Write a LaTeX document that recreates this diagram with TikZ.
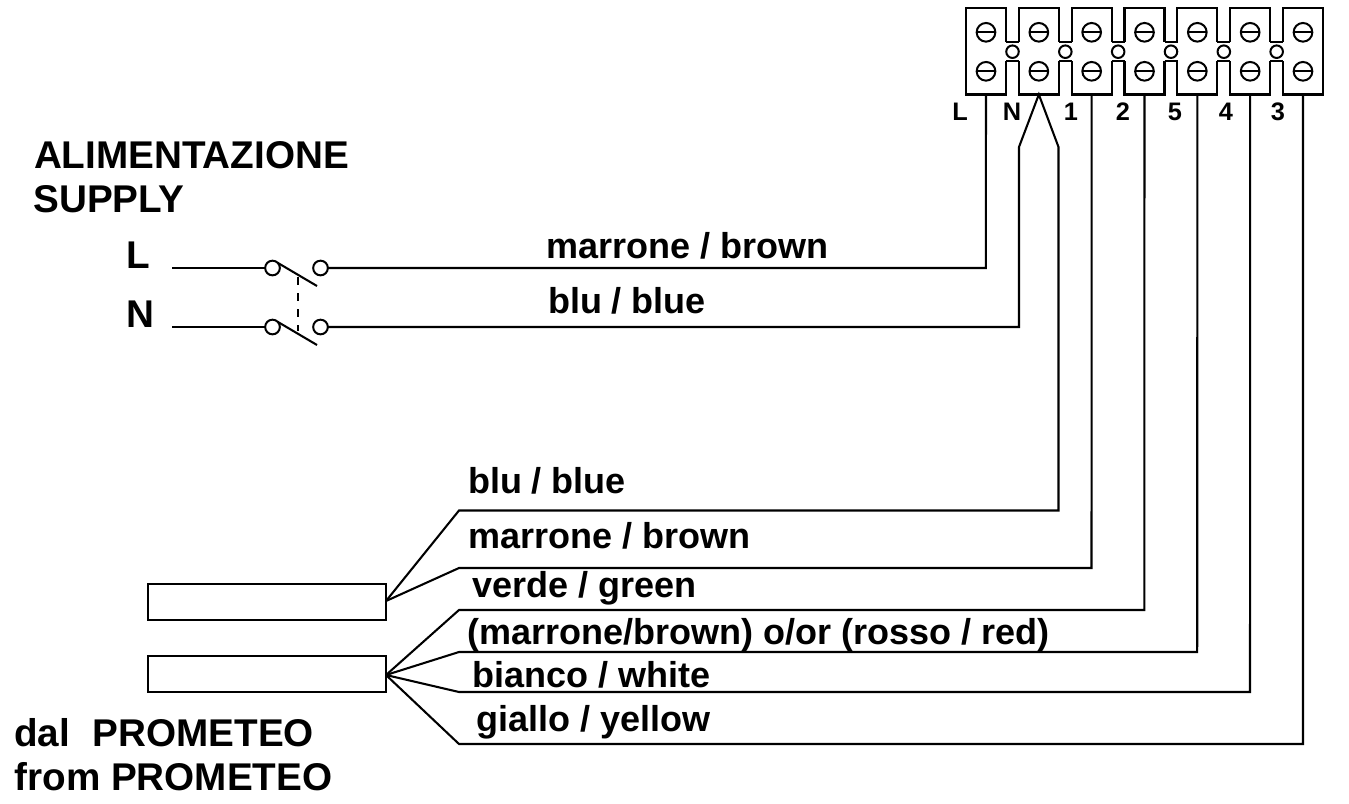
\documentclass[tikz,border=0pt]{standalone}
\usepackage{fontspec}
\setmainfont{Liberation Sans}
\tikzset{
  wire/.style={draw=black,line width=1.55pt,line join=miter},
  blockline/.style={draw=black,line width=1.6pt,line join=miter},
  screw/.style={circle,draw=black,line width=1.5pt,minimum size=14pt,inner sep=0pt,outer sep=0pt},
  pin/.style={circle,draw=black,line width=1.5pt,minimum size=9.4pt,inner sep=0pt,outer sep=0pt},
  contact/.style={circle,draw=black,line width=1.5pt,minimum size=11pt,inner sep=0pt,outer sep=0pt},
  box/.style={draw=black,line width=1.5pt,inner sep=0pt,outer sep=0pt,minimum width=178.5pt,minimum height=27pt},
  big/.style={anchor=base west,inner sep=0pt,outer sep=0pt,font=\fontsize{29pt}{32pt}\bfseries\selectfont},
  lbl/.style={anchor=base west,inner sep=0pt,outer sep=0pt,font=\fontsize{27pt}{30pt}\bfseries\selectfont},
  termlbl/.style={anchor=base,inner sep=0pt,outer sep=0pt,font=\fontsize{19pt}{21pt}\bfseries\selectfont}
}
\begin{document}
\begin{tikzpicture}[x=0.75pt,y=-0.75pt]
\useasboundingbox (0,0) rectangle (1349,803);
% terminal block
\foreach \i in {0,...,6}{
  \pgfmathsetmacro{\xa}{966+52.83*\i}
  \pgfmathsetmacro{\xb}{\xa+40}
  \pgfmathsetmacro{\xc}{\xa+20}
  \draw[blockline] (\xa,42) -- (\xa,8) -- (\xb,8) -- (\xb,42);
  \draw[blockline] (\xa,61) -- (\xa,94.5) -- (\xb,94.5) -- (\xb,61);
  \node[screw] (sa\i) at (\xc,32.3) {};
  \node[screw] (sb\i) at (\xc,71.3) {};
  \draw[line width=1.3pt] (sa\i.west) -- (sa\i.east);
  \draw[line width=1.3pt] (sb\i.west) -- (sb\i.east);
  \coordinate (t\i) at (\xc,94.5);
}
\draw[blockline] (966,42) -- (966,61);
\draw[blockline] (1323,42) -- (1323,61);
\foreach \i in {0,...,5}{
  \pgfmathsetmacro{\xb}{1006+52.83*\i}
  \pgfmathsetmacro{\xd}{\xb+13}
  \pgfmathsetmacro{\xp}{\xb+6.5}
  \draw[blockline] (\xb,42) -- (\xd,42);
  \draw[blockline] (\xb,61) -- (\xd,61);
  \node[pin,fill=white] (p\i) at (\xp,51.7) {};
}
\node[termlbl] (tl0) at (960,120) {L};
\node[termlbl] (tl1) at (1012,120) {N};
\node[termlbl] (tl2) at (1071,120) {1};
\node[termlbl] (tl3) at (1123,120) {2};
\node[termlbl] (tl4) at (1175,120) {5};
\node[termlbl] (tl5) at (1226,120) {4};
\node[termlbl] (tl6) at (1278,120) {3};
% supply labels
\node[big] (ali) at (34,168) {ALIMENTAZIONE};
\node[big] (sup) at (33.5,212.7) {SUPPLY};
\node[big] (lL) at (126.5,268) {L};
\node[big] (lN) at (126.5,327) {N};
% switch
\coordinate (inL) at (172,268);
\coordinate (inN) at (172,327);
\node[contact] (c1) at (272.5,268) {};
\node[contact] (c2) at (320.5,268) {};
\node[contact] (c3) at (272.5,327) {};
\node[contact] (c4) at (320.5,327) {};
\coordinate (bladeL) at (317,286);
\coordinate (bladeN) at (317,345);
\coordinate (linkT) at (298,277);
\coordinate (linkB) at (298,331);
\draw[wire] (inL) -- (c1);
\draw[wire] (inN) -- (c3);
\draw[wire] (c1.north east) -- (bladeL);
\draw[wire] (c3.north east) -- (bladeN);
\draw[line width=1.5pt,dash pattern=on 6pt off 6pt] (linkT) -- (linkB);
% wires to terminals
\coordinate (nL) at (1019,147);
\coordinate (nR) at (1058.5,147);
\draw[wire] (c2) -- (985.8,268) -- (t0);
\draw[wire] (c4) -- (1019,327) -- (nL) -- (t1) -- (nR) -- (1058.5,510.5) -- (459,510.5) -- (386,601);
\draw[wire] (t2) -- (1091.5,568) -- (459,568) -- (386,601);
\draw[wire] (t3) -- (1144.3,610) -- (459,610) -- (386,675);
\draw[wire] (t4) -- (1197.2,652) -- (459,652) -- (386,675);
\draw[wire] (t5) -- (1250,692) -- (459,692) -- (386,675);
\draw[wire] (t6) -- (1303,744) -- (459,744) -- (386,675);
% boxes
\node[box,anchor=north west] (b1) at (148,584) {};
\node[box,anchor=north west] (b2) at (148,656) {};
% wire labels
\node[lbl] (w1) at (546.5,258) {marrone / brown};
\node[lbl] (w2) at (548,313) {blu / blue};
\node[lbl] (w3) at (468,493) {blu / blue};
\node[lbl] (w4) at (468,548) {marrone / brown};
\node[lbl] (w5) at (472.5,597) {verde / green};
\node[lbl] (w6) at (467.5,644) {(marrone/brown) o/or (rosso / red)};
\node[lbl] (w7) at (472,687) {bianco / white};
\node[lbl] (w8) at (476,731) {giallo / yellow};
\node[big] (d1) at (14,746) {dal\ \ \kern1pt PROMETEO};
\node[big] (d2) at (14.5,790) {from PROMETEO};
\end{tikzpicture}
\end{document}
